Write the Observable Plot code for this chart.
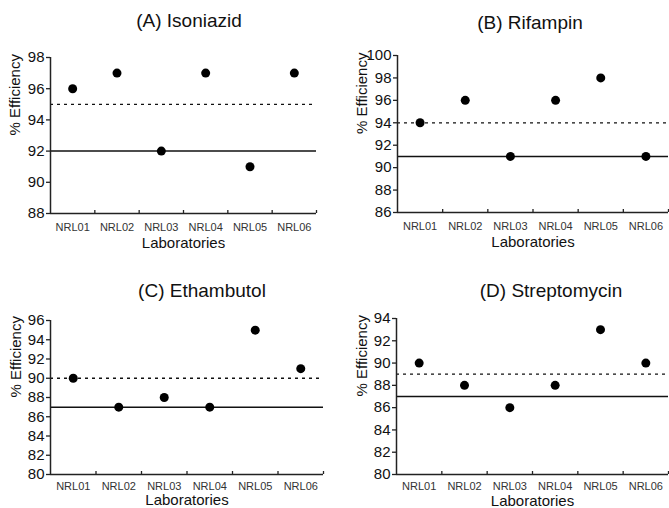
<!DOCTYPE html>
<html>
<head>
<meta charset="utf-8">
<script src="https://cdn.jsdelivr.net/npm/d3@7"></script>
<script src="https://cdn.jsdelivr.net/npm/@observablehq/plot@0.6"></script>
<style>
  html, body { margin: 0; padding: 0; background: #fff; }
  #root { position: relative; width: 669px; height: 508px; overflow: hidden; font-family: "Liberation Sans", Arial, sans-serif; }
  .panel { position: absolute; }
  .title { position: absolute; transform: translate(-50%, -50%); font-size: 19px; color: #111; white-space: nowrap; font-family: "Liberation Sans", Arial, sans-serif; }
</style>
</head>
<body>
<div id="root"></div>
<script>
const labs = ["NRL01", "NRL02", "NRL03", "NRL04", "NRL05", "NRL06"];
const isoniazid = [96, 97, 92, 97, 91, 97];
const rifampin = [94, 96, 91, 96, 98, 91];
const ethambutol = [90, 87, 88, 87, 95, 91];
const streptomycin = [90, 88, 86, 88, 93, 90];
const titles = ["(A) Isoniazid", "(B) Rifampin", "(C) Ethambutol", "(D) Streptomycin"];
const dashedLevels = [95, 94, 90, 89];
const solidLevels = [92, 91, 87, 87];
const yDomains = [[88, 98], [86, 100], [80, 96], [80, 94]];
const xLabel = "Laboratories";
const yLabel = "% Efficiency";

const series = [isoniazid, rifampin, ethambutol, streptomycin];

// layout per panel (position of the svg box and its margins)
const layouts = [
  {left: 0, top: 0, width: 335, height: 254, ml: 50, mr: 19, mt: 57, mb: 41, tx: 189, ty: 21, tdy: 14, ldy: 30, ylx: 15},
  {left: 335, top: 0, width: 334, height: 254, ml: 62, mr: 1, mt: 55, mb: 42, tx: 530, ty: 23, tdy: 14, ldy: 30, ylx: 27},
  {left: 0, top: 254, width: 335, height: 254, ml: 50, mr: 12, mt: 66, mb: 34, tx: 202, ty: 291, tdy: 12, ldy: 26, ylx: 16},
  {left: 335, top: 254, width: 334, height: 254, ml: 61, mr: 1, mt: 64, mb: 34, tx: 551, ty: 291, tdy: 12, ldy: 27, ylx: 27}
];

const root = document.getElementById("root");

series.forEach((vals, k) => {
  const L = layouts[k];
  const [y0, y1] = yDomains[k];
  const data = labs.map((lab, i) => ({lab, i, v: vals[i]}));
  const yTicks = d3.range(y0, y1 + 0.001, 2);
  const boundaries = d3.range(1, labs.length + 1);
  const innerH = L.height - L.mt - L.mb;

  const svg = Plot.plot({
    width: L.width,
    height: L.height,
    marginLeft: L.ml,
    marginRight: L.mr,
    marginTop: L.mt,
    marginBottom: L.mb,
    style: {fontFamily: "Liberation Sans, Arial, sans-serif", fontSize: "15px", background: "white", overflow: "visible", color: "#111"},
    x: {type: "linear", domain: [0, labs.length], axis: null},
    y: {domain: [y0, y1], axis: null},
    marks: [
      Plot.ruleY([dashedLevels[k]], {stroke: "#111", strokeWidth: 1.3, strokeDasharray: "3,4"}),
      Plot.ruleY([solidLevels[k]], {stroke: "#111", strokeWidth: 1.5}),
      Plot.ruleX([0], {stroke: "#222", strokeWidth: 1.5}),
      Plot.ruleY([y0], {stroke: "#222", strokeWidth: 1.5}),
      Plot.axisY({ticks: yTicks, tickSize: 4, tickPadding: 2, label: null, tickFormat: d => d, stroke: "#222", strokeWidth: 1.3}),
      Plot.tickX(boundaries, {x: d => d, stroke: "#222", strokeWidth: 1.3, insetTop: innerH - 3}),
      Plot.text(data, {x: d => d.i + 0.5, text: "lab", frameAnchor: "bottom", lineAnchor: "middle", dy: L.tdy, fontSize: 11, fill: "#333"}),
      Plot.dot(data, {x: d => d.i + 0.5, y: "v", r: 4.5, fill: "#000", stroke: "none"}),
      Plot.text([yLabel], {frameAnchor: "left", dx: -(L.ml - L.ylx), rotate: -90, fontSize: 15, fill: "#111"}),
      Plot.text([xLabel], {frameAnchor: "bottom", lineAnchor: "middle", dy: L.ldy, fontSize: 15, fill: "#111"})
    ]
  });

  const div = document.createElement("div");
  div.className = "panel";
  div.style.left = L.left + "px";
  div.style.top = L.top + "px";
  div.appendChild(svg);
  root.appendChild(div);

  const t = document.createElement("div");
  t.className = "title";
  t.style.left = L.tx + "px";
  t.style.top = L.ty + "px";
  t.textContent = titles[k];
  root.appendChild(t);
});
</script>
</body>
</html>
